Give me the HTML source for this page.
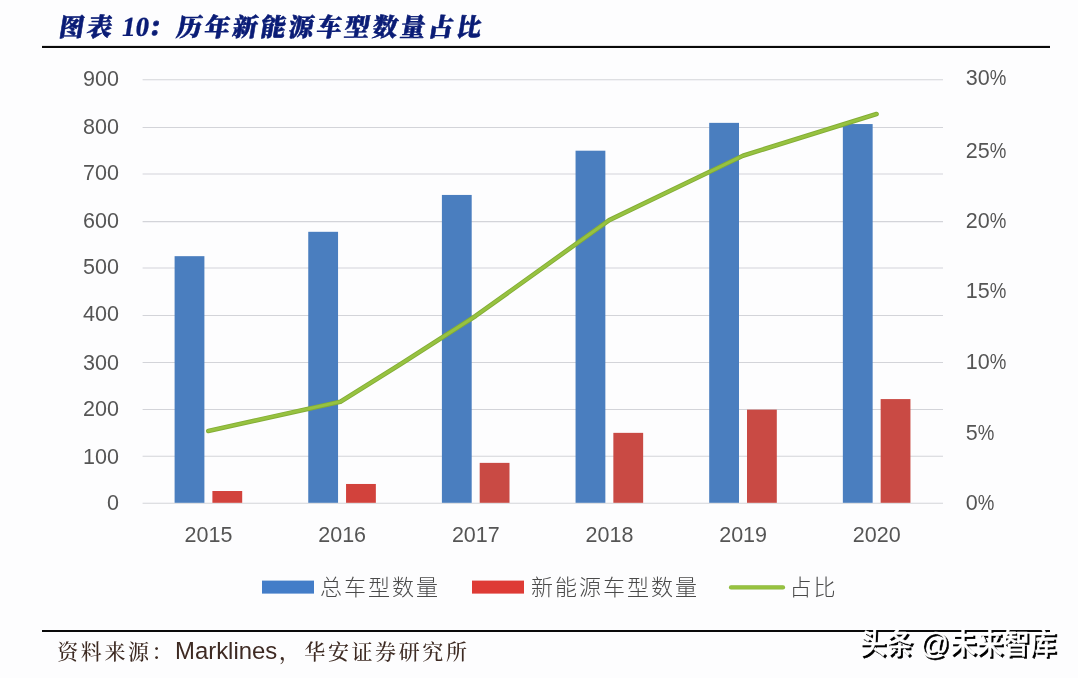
<!DOCTYPE html>
<html lang="zh-CN">
<head>
<meta charset="utf-8">
<title>图表 10：历年新能源车型数量占比</title>
<style>
html,body{margin:0;padding:0;background:#fdfdfe;}
body{width:1078px;height:678px;overflow:hidden;position:relative;}
svg{position:absolute;left:0;top:0;display:block;}
.ax{font-family:"Liberation Sans","Noto Sans CJK SC",sans-serif;font-weight:400;font-size:21.5px;fill:#555;}
.lg{font-family:"Liberation Sans","Noto Sans CJK SC",sans-serif;font-weight:300;font-size:22px;fill:#4a4a4a;}
.ttl{font-family:"Liberation Serif","Noto Serif CJK SC",serif;font-weight:900;font-size:25px;fill:#0a1c76;stroke:#0a1c76;stroke-width:0.6px;stroke-linejoin:round;}
.src{font-family:"Liberation Sans","Noto Serif CJK SC",serif;font-weight:500;font-size:21px;fill:#3d2a22;}
.wm{font-family:"Liberation Sans","Noto Sans CJK SC",sans-serif;font-size:26.6px;font-weight:500;}
</style>
</head>
<body>
<svg width="1078" height="678" viewBox="0 0 1078 678">
<defs>
<filter id="ws" x="-5%" y="-30%" width="110%" height="170%" color-interpolation-filters="sRGB">
<feMorphology in="SourceAlpha" operator="dilate" radius="0.3" result="d"/>
<feOffset in="d" dx="1.7" dy="1.6" result="o"/>
<feFlood flood-color="#000" result="f"/>
<feComposite in="f" in2="o" operator="in" result="sh"/>
<feMerge><feMergeNode in="sh"/><feMergeNode in="SourceGraphic"/></feMerge>
</filter>
</defs>
<rect x="0" y="0" width="1078" height="678" fill="#fdfdfe"/>

<text class="ttl" transform="translate(0,35.7) skewX(-9)" letter-spacing="3"><tspan x="58">图表</tspan> <tspan x="120.5" font-size="27.5" stroke-width="0.2" letter-spacing="0">10</tspan><tspan x="147">：</tspan><tspan x="175.5">历年新能源车型数量占比</tspan></text>
<rect x="42" y="45.9" width="1008" height="2.1" fill="#0a0a0a"/>
<g stroke="#d3d4d9" stroke-width="1.05">
<line x1="142.6" y1="503.20" x2="943.0" y2="503.20"/>
<line x1="142.6" y1="456.30" x2="943.0" y2="456.30"/>
<line x1="142.6" y1="409.40" x2="943.0" y2="409.40"/>
<line x1="142.6" y1="362.50" x2="943.0" y2="362.50"/>
<line x1="142.6" y1="315.50" x2="943.0" y2="315.50"/>
<line x1="142.6" y1="268.00" x2="943.0" y2="268.00"/>
<line x1="142.6" y1="221.60" x2="943.0" y2="221.60"/>
<line x1="142.6" y1="174.00" x2="943.0" y2="174.00"/>
<line x1="142.6" y1="127.40" x2="943.0" y2="127.40"/>
<line x1="142.6" y1="79.65" x2="943.0" y2="79.65"/>
</g>
<g fill="#4a7ebf">
<rect x="174.60" y="256.17" width="29.8" height="246.63"/>
<rect x="308.25" y="231.81" width="29.8" height="270.99"/>
<rect x="441.90" y="194.94" width="29.8" height="307.86"/>
<rect x="575.55" y="150.70" width="29.8" height="352.10"/>
<rect x="709.20" y="122.86" width="29.8" height="379.94"/>
<rect x="842.85" y="124.06" width="29.8" height="378.74"/>
</g>
<g fill="#c94a44">
<rect x="212.40" y="491.01" width="29.8" height="11.79" fill="#d2423c"/>
<rect x="346.05" y="483.97" width="29.8" height="18.83" fill="#d2423c"/>
<rect x="479.70" y="462.87" width="29.8" height="39.93"/>
<rect x="613.35" y="432.85" width="29.8" height="69.95"/>
<rect x="747.00" y="409.63" width="29.8" height="93.17"/>
<rect x="880.65" y="399.08" width="29.8" height="103.72"/>
</g>
<polyline points="208.30,430.90 340.40,401.70 400.00,364.50 475.60,315.97 609.25,220.17 742.90,155.73 876.55,114.03" fill="none" stroke="#83ad36" stroke-width="4.6" stroke-linecap="round" stroke-linejoin="round"/>
<polyline points="208.30,430.90 340.40,401.70 400.00,364.50 475.60,315.97 609.25,220.17 742.90,155.73 876.55,114.03" fill="none" stroke="#97c240" stroke-width="2.8" stroke-linecap="round" stroke-linejoin="round"/>
<g class="ax" text-anchor="end">
<text x="118.9" y="509.90">0</text>
<text x="118.9" y="463.80">100</text>
<text x="118.9" y="415.80">200</text>
<text x="118.9" y="370.05">300</text>
<text x="118.9" y="321.40">400</text>
<text x="118.9" y="273.80">500</text>
<text x="118.9" y="227.60">600</text>
<text x="118.9" y="180.05">700</text>
<text x="118.9" y="133.90">800</text>
<text x="118.9" y="86.30">900</text>
</g>
<g class="ax" text-anchor="start">
<text x="965.8" y="510.10">0<tspan textLength="16.6" lengthAdjust="spacingAndGlyphs">%</tspan></text>
<text x="965.8" y="439.50">5<tspan textLength="16.6" lengthAdjust="spacingAndGlyphs">%</tspan></text>
<text x="965.8" y="368.60">10<tspan textLength="16.6" lengthAdjust="spacingAndGlyphs">%</tspan></text>
<text x="965.8" y="298.10">15<tspan textLength="16.6" lengthAdjust="spacingAndGlyphs">%</tspan></text>
<text x="965.8" y="227.90">20<tspan textLength="16.6" lengthAdjust="spacingAndGlyphs">%</tspan></text>
<text x="965.8" y="158.40">25<tspan textLength="16.6" lengthAdjust="spacingAndGlyphs">%</tspan></text>
<text x="965.8" y="85.20">30<tspan textLength="16.6" lengthAdjust="spacingAndGlyphs">%</tspan></text>
</g>
<g class="ax" text-anchor="middle">
<text x="208.53" y="541.7">2015</text>
<text x="342.18" y="541.7">2016</text>
<text x="475.83" y="541.7">2017</text>
<text x="609.48" y="541.7">2018</text>
<text x="743.13" y="541.7">2019</text>
<text x="876.78" y="541.7">2020</text>
</g>
<rect x="262" y="580.6" width="52" height="13" fill="#437dc8"/>
<text class="lg" x="320" y="594.9" letter-spacing="2">总车型数量</text>
<rect x="472" y="580.6" width="52" height="13" fill="#de3b35"/>
<text class="lg" x="531" y="594.9" letter-spacing="2">新能源车型数量</text>
<line x1="731" y1="587.4" x2="783" y2="587.4" stroke="#8cb83a" stroke-width="4.2" stroke-linecap="round"/>
<line x1="731" y1="587.4" x2="783" y2="587.4" stroke="#97c240" stroke-width="2.6" stroke-linecap="round"/>
<text class="lg" x="789.5" y="594.9" letter-spacing="2">占比</text>
<rect x="42" y="630" width="1008" height="2" fill="#0a0a0a"/>
<text class="src" y="659.3" letter-spacing="2.6"><tspan x="57.2">资料来源：</tspan><tspan x="175" font-size="23.9" font-weight="400" fill="#3e2a23" letter-spacing="0">Marklines</tspan><tspan x="279">，</tspan><tspan x="304.3">华安证券研究所</tspan></text>
<text class="wm" filter="url(#ws)" transform="translate(0,653.6) scale(1,1.08)" fill="#fff" stroke="#fff" stroke-width="0.4"><tspan x="859.6">头条</tspan> <tspan x="919.6" textLength="29.6" lengthAdjust="spacingAndGlyphs">@</tspan><tspan x="949.8">未来智库</tspan></text>
</svg>
</body>
</html>
